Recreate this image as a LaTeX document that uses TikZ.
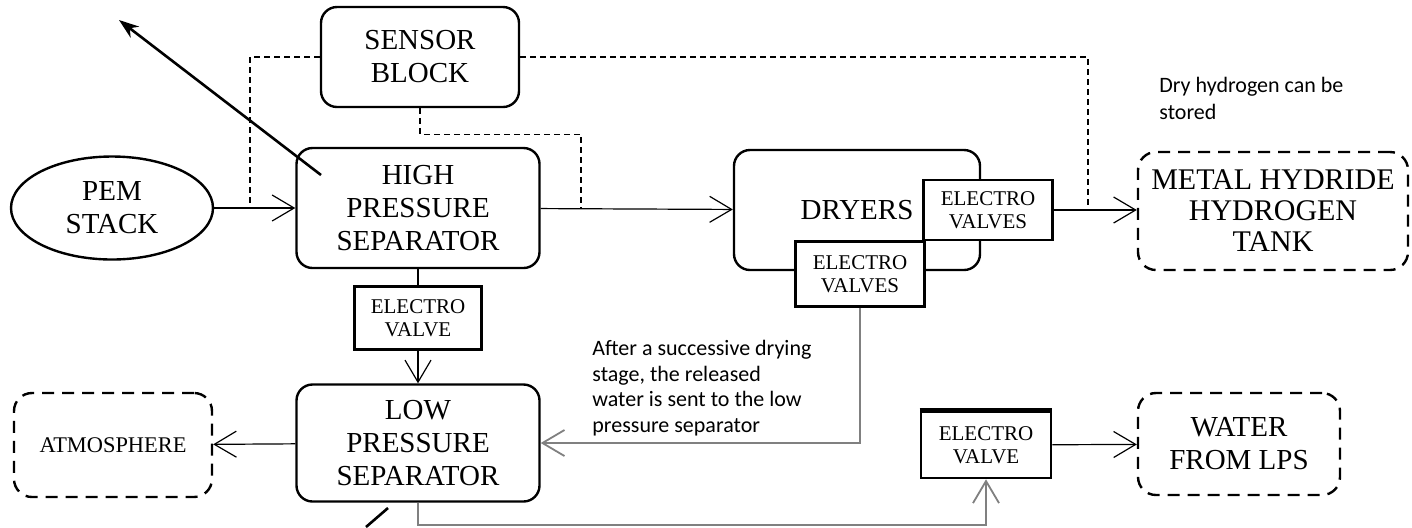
\documentclass[tikz,border=0pt]{standalone}
\usepackage{fontspec}
\setmainfont{Liberation Serif}
\newfontfamily\notafonte{Carlito}
\usetikzlibrary{positioning, arrows.meta, shapes.geometric}

\begin{document}
\begin{tikzpicture}[
  x=0.5pt, y=-0.5pt,
  bloco/.style = {draw, line width=1.2pt, rounded corners=8pt, align=center, inner sep=2pt, fill=white, font=\fontsize{14.5}{16.5}\selectfont},
  externo/.style = {bloco, dashed, dash pattern=on 6pt off 4pt, rounded corners=9pt},
  valvula/.style = {draw, line width=1.3pt, fill=white, align=center, inner sep=1pt, font=\fontsize{10.5}{11.5}\selectfont},
  seta/.style = {-{Straight Barb[length=11pt, width=13pt]}, line width=0.6pt},
  retorno/.style = {seta, draw=gray, line width=0.9pt},
  sinal/.style = {line width=0.6pt, dash pattern=on 3pt off 2pt},
  nota/.style = {anchor=west, align=left, inner sep=0pt, font=\notafonte\fontsize{11}{13.5}\selectfont},
]
\fill[white] (0,0) rectangle (1412,527);
\useasboundingbox (0,0) rectangle (1412,527);
% blocos principais
\node[bloco] (sensor) at (420,57) [minimum width=99pt, minimum height=50pt] {SENSOR\\BLOCK};
\node[bloco, ellipse] (pem) at (112,208) [minimum width=101pt, minimum height=51.5pt, inner sep=0pt] {PEM\\STACK};
\node[bloco] (hps) at (418,208) [minimum width=121.5pt, minimum height=60pt] {HIGH\\PRESSURE\\SEPARATOR};
\node[bloco] (dryers) at (857,210) [minimum width=123pt, minimum height=60pt] {DRYERS};
\node[valvula] (evup) at (988,210) [minimum width=64.5pt, minimum height=30pt] {ELECTRO\\VALVES};
\node[valvula] (evlow) at (860,274) [minimum width=64.5pt, minimum height=32.5pt] {ELECTRO\\VALVES};
\node[externo] (mh) at (1273,211) [minimum width=135pt, minimum height=59pt, font=\fontsize{15}{15.5}\selectfont] {METAL HYDRIDE\\HYDROGEN\\TANK};
\node[valvula] (ev1) at (418,318) [minimum width=63.5pt, minimum height=31.5pt] {ELECTRO\\VALVE};
\node[bloco] (lps) at (418,443) [minimum width=121.5pt, minimum height=58.5pt] {LOW\\PRESSURE\\SEPARATOR};
\node[externo] (atm) at (113,445) [minimum width=99pt, minimum height=52pt, font=\fontsize{11.2}{12}\selectfont] {ATMOSPHERE};
\node[valvula] (ev2) at (986,445) [minimum width=65pt, minimum height=33pt] {ELECTRO\\VALVE};
\node[externo] (water) at (1239,444) [minimum width=101pt, minimum height=51pt] {WATER\\FROM LPS};
\draw[line width=2.4pt] (ev2.north west) -- (ev2.north east);
% notas
\node[nota] (notaH) at (1159,98) {Dry hydrogen can be\\stored};
\node[nota] (notaW) at (592,388) [font=\notafonte\fontsize{11}{12.8}\selectfont] {After a successive drying\\stage, the released\\water is sent to the low\\pressure separator};
% pontos livres
\coordinate (tapL) at (250,208);
\coordinate (tapM) at (581,208);
\coordinate (tapR) at (1088,210);
\coordinate (ptrA) at (321,175);
\coordinate (ptrB) at (119,20);
\coordinate (cutA) at (388,508);
\coordinate (cutB) at (366,527);
% fluxos
\draw[seta] (pem) -- (hps);
\draw[seta] (hps) -- (dryers);
\draw[seta] (evup) -- (mh.west |- evup.east);
\draw[line width=0.6pt] (hps) -- (ev1);
\draw[seta] (ev1) -- (lps);
\draw[seta] (lps) -- (atm);
\draw[retorno] (evlow.south) |- (lps.east);
\draw[retorno] (lps.south) -- ++(0,22) -| (ev2.south);
\draw[seta] (ev2) -- (water);
% sinais do bloco de sensores
\draw[sinal] (sensor.west) -| (tapL);
\draw[sinal] (sensor.south) -- ++(0,26) -| (tapM);
\draw[sinal] (sensor.east) -| (tapR);
\draw[line width=1.3pt, -{Stealth[length=10pt, width=7pt]}] (ptrA) -- (ptrB);
\draw[line width=1.3pt] (cutA) -- (cutB);
\end{tikzpicture}
\end{document}
